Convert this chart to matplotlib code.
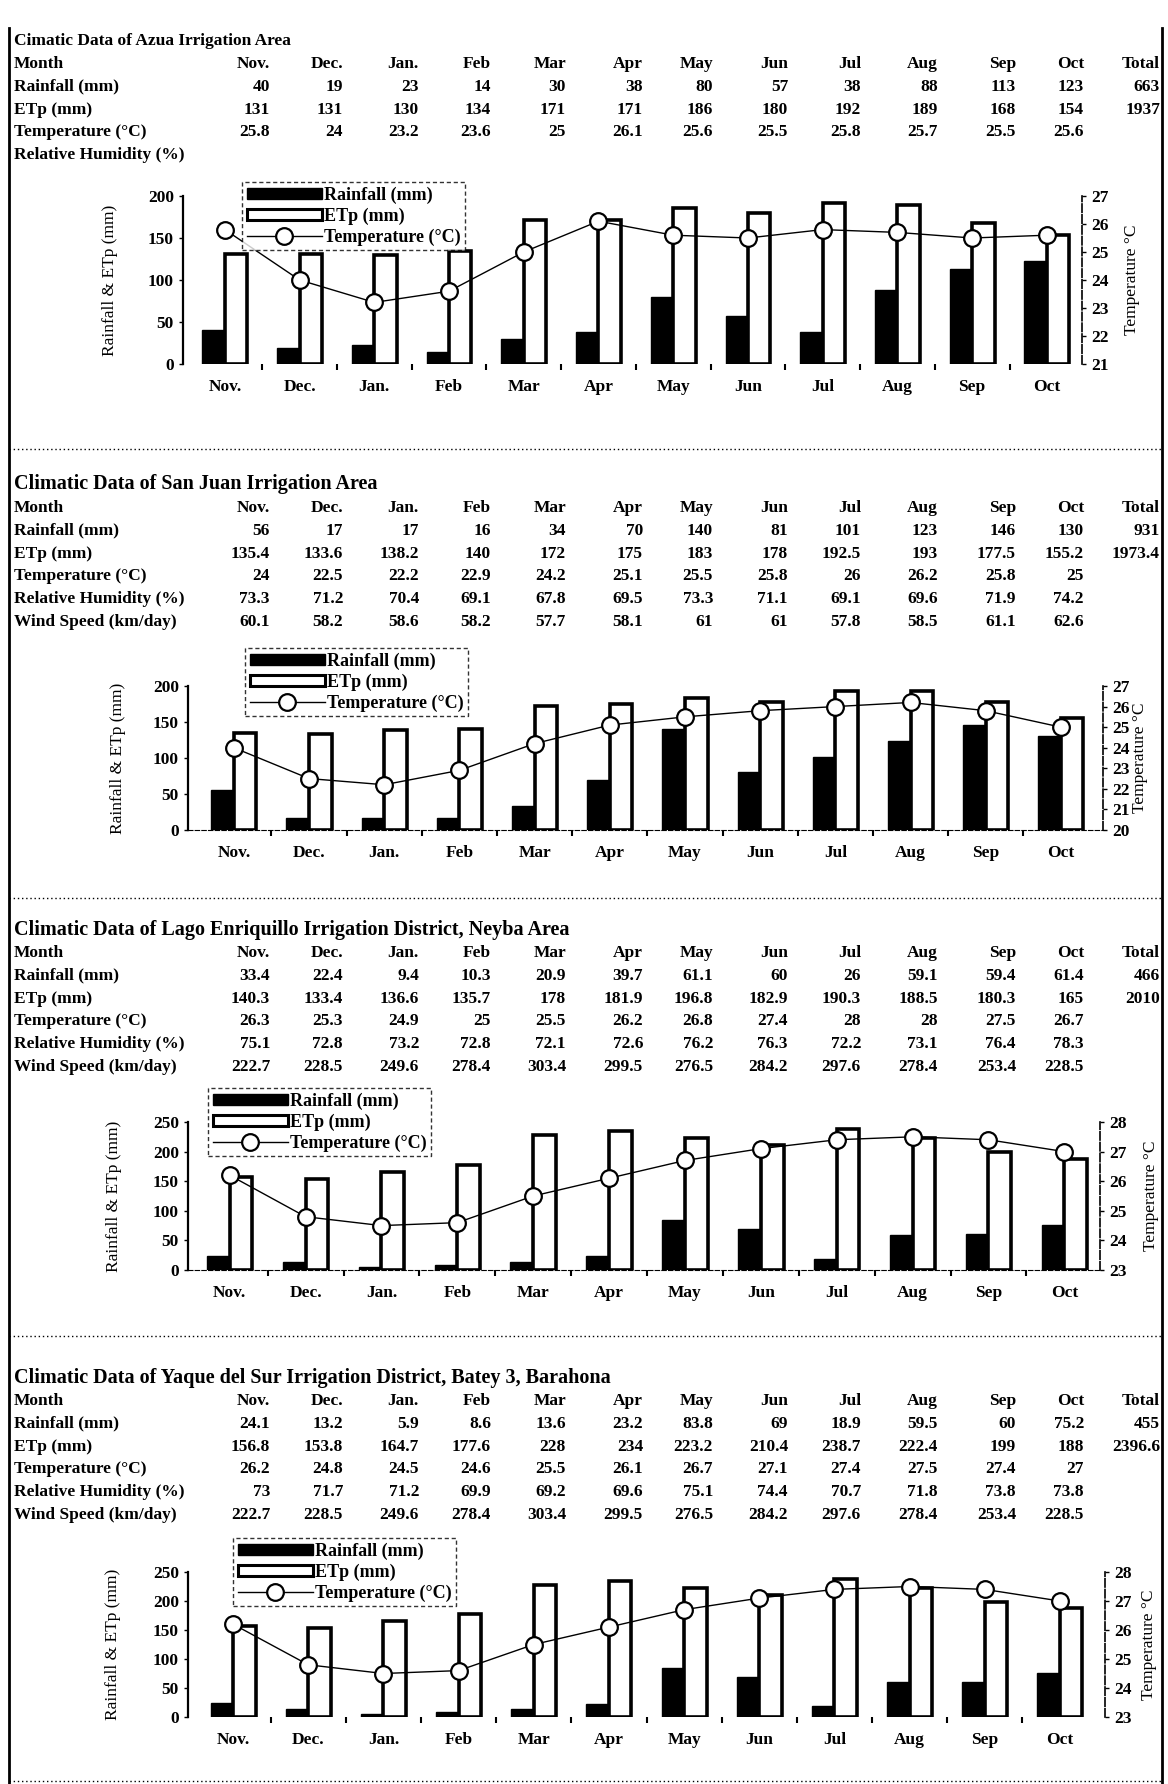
import matplotlib.pyplot as plt
from matplotlib.lines import Line2D
from matplotlib.patches import Patch

plt.rcParams['font.family'] = ['Liberation Serif', 'DejaVu Serif']
plt.rcParams['font.weight'] = 'bold'

W, H = 1168, 1784

months = ['Nov.', 'Dec.', 'Jan.', 'Feb', 'Mar', 'Apr', 'May', 'Jun', 'Jul', 'Aug', 'Sep', 'Oct']

# Azua
azua_rain = [40, 19, 23, 14, 30, 38, 80, 57, 38, 88, 113, 123]
azua_etp = [131, 131, 130, 134, 171, 171, 186, 180, 192, 189, 168, 154]
azua_temp = [25.8, 24, 23.2, 23.6, 25, 26.1, 25.6, 25.5, 25.8, 25.7, 25.5, 25.6]
azua_total = [663, 1937]

# San Juan
sj_rain = [56, 17, 17, 16, 34, 70, 140, 81, 101, 123, 146, 130]
sj_etp = [135.4, 133.6, 138.2, 140, 172, 175, 183, 178, 192.5, 193, 177.5, 155.2]
sj_temp = [24, 22.5, 22.2, 22.9, 24.2, 25.1, 25.5, 25.8, 26, 26.2, 25.8, 25]
sj_rh = [73.3, 71.2, 70.4, 69.1, 67.8, 69.5, 73.3, 71.1, 69.1, 69.6, 71.9, 74.2]
sj_wind = [60.1, 58.2, 58.6, 58.2, 57.7, 58.1, 61, 61, 57.8, 58.5, 61.1, 62.6]
sj_total = [931, 1973.4]

# Lago Enriquillo
le_rain = [33.4, 22.4, 9.4, 10.3, 20.9, 39.7, 61.1, 60, 26, 59.1, 59.4, 61.4]
le_etp = [140.3, 133.4, 136.6, 135.7, 178, 181.9, 196.8, 182.9, 190.3, 188.5, 180.3, 165]
le_temp = [26.3, 25.3, 24.9, 25, 25.5, 26.2, 26.8, 27.4, 28, 28, 27.5, 26.7]
le_rh = [75.1, 72.8, 73.2, 72.8, 72.1, 72.6, 76.2, 76.3, 72.2, 73.1, 76.4, 78.3]
le_wind = [222.7, 228.5, 249.6, 278.4, 303.4, 299.5, 276.5, 284.2, 297.6, 278.4, 253.4, 228.5]
le_total = [466, 2010]

# Yaque del Sur
yq_rain = [24.1, 13.2, 5.9, 8.6, 13.6, 23.2, 83.8, 69, 18.9, 59.5, 60, 75.2]
yq_etp = [156.8, 153.8, 164.7, 177.6, 228, 234, 223.2, 210.4, 238.7, 222.4, 199, 188]
yq_temp = [26.2, 24.8, 24.5, 24.6, 25.5, 26.1, 26.7, 27.1, 27.4, 27.5, 27.4, 27]
yq_rh = [73, 71.7, 71.2, 69.9, 69.2, 69.6, 75.1, 74.4, 70.7, 71.8, 73.8, 73.8]
yq_wind = [222.7, 228.5, 249.6, 278.4, 303.4, 299.5, 276.5, 284.2, 297.6, 278.4, 253.4, 228.5]
yq_total = [455, 2396.6]

col_right = [270, 343, 419, 491, 566, 643, 713, 788, 861, 938, 1016, 1084]
total_right = 1160

fig = plt.figure(figsize=(W / 100, H / 100), dpi=100)


def fx(x):
    return x / W


def fy(y):
    return 1 - y / H


def fmt(v):
    return '{:g}'.format(v)


def table(title, title_y, title_size, rows, y0, dy=22.8):
    fig.text(fx(14), fy(title_y), title, fontsize=title_size, va='center', ha='left')
    fig.text(fx(14), fy(y0), 'Month', fontsize=12.5, va='center')
    for j, m in enumerate(months):
        fig.text(fx(col_right[j]), fy(y0), m, fontsize=12.5, va='center', ha='right')
    fig.text(fx(total_right), fy(y0), 'Total', fontsize=12.5, va='center', ha='right')
    for i, (label, vals, tot) in enumerate(rows):
        y = y0 + (i + 1) * dy
        fig.text(fx(14), fy(y), label, fontsize=12.5, va='center')
        if vals is None:
            continue
        for j, v in enumerate(vals):
            fig.text(fx(col_right[j]), fy(y), fmt(v), fontsize=12.5, va='center', ha='right')
        if tot is not None:
            fig.text(fx(total_right), fy(y), fmt(tot), fontsize=12.5, va='center', ha='right')


def chart(box, xlim, rain, etp, temp, lmax, rlim, leg_xy, ylab_x, tlab_x, base=False):
    x0, y0, x1, y1 = box
    ax = fig.add_axes([fx(x0), fy(y1), (x1 - x0) / W, (y1 - y0) / H])
    x = list(range(len(months)))
    ax.bar([i - 0.15 for i in x], rain, width=0.3, color='black', edgecolor='black', zorder=2)
    ax.bar([i + 0.15 for i in x], etp, width=0.3, color='white', edgecolor='black', linewidth=2.6, zorder=2)
    ax.set_xlim(*xlim)
    ax.set_ylim(0, lmax)
    ax.set_yticks(range(0, lmax + 1, 50))
    ax.set_xticks(x)
    ax.set_xticklabels(months, fontsize=12.5)
    ax.set_xticks([i + 0.5 for i in x[:-1]], minor=True)
    ax.tick_params(axis='x', which='major', length=0, pad=11)
    ax.tick_params(axis='x', which='minor', length=4, width=1.5, direction='out')
    ax.tick_params(axis='y', labelsize=12.5, length=3, width=1)
    for s in ['top', 'right']:
        ax.spines[s].set_visible(False)
    ax.spines['left'].set_linewidth(1.6)
    if base:
        ax.spines['bottom'].set_linestyle((0, (4, 2)))
        ax.spines['bottom'].set_linewidth(0.8)
    else:
        ax.spines['bottom'].set_visible(False)

    ax2 = ax.twinx()
    ax2.plot(x, temp, color='black', linewidth=1, marker='o', markersize=12,
             markerfacecolor='white', markeredgecolor='black', markeredgewidth=1.6, zorder=3)
    ax2.set_ylim(*rlim)
    ax2.set_yticks(range(rlim[0], rlim[1] + 1))
    ax2.tick_params(axis='y', labelsize=12.5, length=3, width=1)
    for s in ['top', 'left', 'bottom']:
        ax2.spines[s].set_visible(False)
    ax2.spines['right'].set_linestyle((0, (5, 1.5)))
    ax2.spines['right'].set_linewidth(1.2)

    fig.text(fx(ylab_x), fy((y0 + y1) / 2), 'Rainfall & ETp (mm)', rotation=90,
             fontsize=12.5, fontweight='normal', ha='center', va='center')
    fig.text(fx(tlab_x), fy((y0 + y1) / 2), 'Temperature °C', rotation=90,
             fontsize=12.5, fontweight='normal', ha='center', va='center')

    handles = [Patch(facecolor='black', edgecolor='black'),
               Patch(facecolor='white', edgecolor='black', linewidth=2.2),
               Line2D([], [], color='black', linewidth=1, marker='o', markersize=12,
                      markerfacecolor='white', markeredgewidth=1.6)]
    leg = ax2.legend(handles, ['Rainfall (mm)', 'ETp (mm)', 'Temperature (°C)'],
                     loc='upper left', bbox_to_anchor=(fx(leg_xy[0]), fy(leg_xy[1])),
                     bbox_transform=fig.transFigure, fontsize=13, frameon=True,
                     fancybox=False, handlelength=4.2, handleheight=0.6,
                     handletextpad=0.1, labelspacing=0.2, borderpad=0.25,
                     borderaxespad=0)
    fr = leg.get_frame()
    fr.set_edgecolor('black')
    fr.set_linestyle((0, (3, 2)))
    fr.set_linewidth(1.0)
    leg.set_zorder(10)


# Panel 1
table('Cimatic Data of Azua Irrigation Area', 41, 12.5,
      [('Rainfall (mm)', azua_rain, azua_total[0]),
       ('ETp (mm)', azua_etp, azua_total[1]),
       ('Temperature (°C)', azua_temp, None),
       ('Relative Humidity (%)', None, None)], 64)
chart((183, 196, 1082, 364), (-0.56, 11.47), azua_rain, azua_etp, azua_temp, 200, (21, 27),
      (242, 182), 110, 1132)

# Panel 2
table('Climatic Data of San Juan Irrigation Area', 484, 14.5,
      [('Rainfall (mm)', sj_rain, sj_total[0]),
       ('ETp (mm)', sj_etp, sj_total[1]),
       ('Temperature (°C)', sj_temp, None),
       ('Relative Humidity (%)', sj_rh, None),
       ('Wind Speed (km/day)', sj_wind, None)], 508)
chart((188, 686, 1103, 830), (-0.61, 11.56), sj_rain, sj_etp, sj_temp, 200, (20, 27),
      (245, 648), 118, 1140, base=True)

# Panel 3 (the original figure repeats the Yaque del Sur chart here)
table('Climatic Data of Lago Enriquillo Irrigation District, Neyba Area', 930, 14.5,
      [('Rainfall (mm)', le_rain, le_total[0]),
       ('ETp (mm)', le_etp, le_total[1]),
       ('Temperature (°C)', le_temp, None),
       ('Relative Humidity (%)', le_rh, None),
       ('Wind Speed (km/day)', le_wind, None)], 953)
chart((188, 1122, 1100, 1270), (-0.55, 11.47), yq_rain, yq_etp, yq_temp, 250, (23, 28),
      (208, 1088), 114, 1151, base=True)

# Panel 4
table('Climatic Data of Yaque del Sur Irrigation District, Batey 3, Barahona', 1378, 14.5,
      [('Rainfall (mm)', yq_rain, yq_total[0]),
       ('ETp (mm)', yq_etp, yq_total[1]),
       ('Temperature (°C)', yq_temp, None),
       ('Relative Humidity (%)', yq_rh, None),
       ('Wind Speed (km/day)', yq_wind, None)], 1401)
chart((188, 1572, 1105, 1717), (-0.6, 11.6), yq_rain, yq_etp, yq_temp, 250, (23, 28),
      (233, 1538), 113, 1149)

# page frame and separators
for y in [449, 898, 1336, 1781]:
    fig.add_artist(Line2D([fx(9), fx(1162)], [fy(y), fy(y)], color='black',
                          linestyle=(0, (1, 2)), linewidth=1, transform=fig.transFigure))
for xb in [9, 1162]:
    fig.add_artist(Line2D([fx(xb), fx(xb)], [fy(28), fy(1784)], color='black',
                          linewidth=2, transform=fig.transFigure))

fig.savefig('out.png', dpi=100)
